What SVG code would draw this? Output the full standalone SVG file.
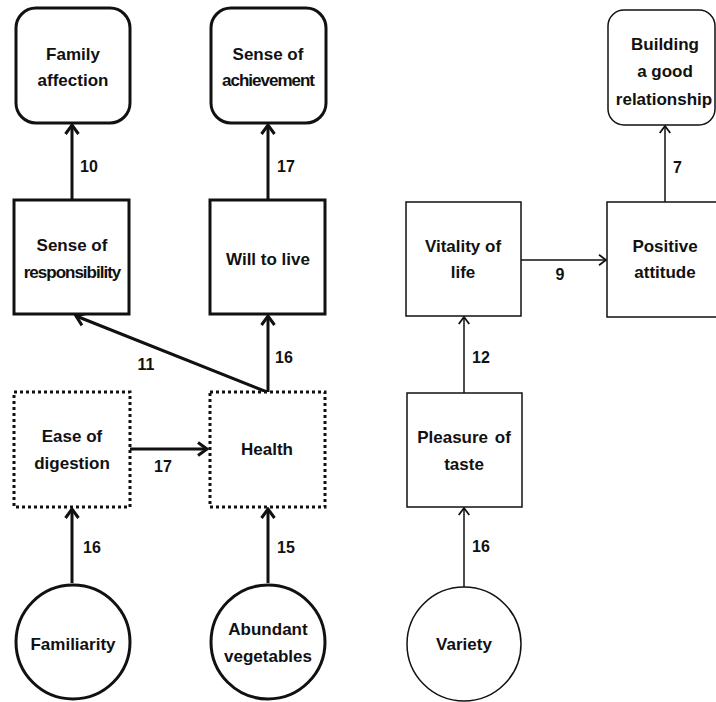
<svg xmlns="http://www.w3.org/2000/svg" width="716" height="702" viewBox="0 0 716 702">
<style>
text{font-family:"Liberation Sans",Arial,sans-serif;font-weight:bold;font-size:17px;fill:#111;text-anchor:middle}
text.n{font-size:16px}
.thick{fill:#fff;stroke:#111;stroke-width:3}
.thin{fill:#fff;stroke:#111;stroke-width:1.5}
.dot{fill:#fff;stroke:#111;stroke-width:3;stroke-dasharray:3 3}
.ct{stroke:#111;stroke-width:3;fill:none;marker-end:url(#ah)}
.cn{stroke:#111;stroke-width:1.5;fill:none;marker-end:url(#ahs)}
.lbl{text-anchor:start}
</style>
<defs>
<marker id="ah" markerUnits="userSpaceOnUse" markerWidth="20" markerHeight="20" refX="0" refY="0" viewBox="-12 -10 14 20" orient="auto" overflow="visible">
<path d="M-9,-6.5 L0,0 L-9,6.5" fill="none" stroke="#111" stroke-width="3"/>
</marker>
<marker id="ahs" markerUnits="userSpaceOnUse" markerWidth="14" markerHeight="14" refX="0" refY="0" viewBox="-8 -6 10 12" orient="auto" overflow="visible">
<path d="M-6,-4.5 L0,0 L-6,4.5" fill="none" stroke="#111" stroke-width="1.5"/>
</marker>
</defs>
<g id="connectors">
<line class="ct" x1="72" y1="200" x2="72" y2="125"/>
<line class="ct" x1="268" y1="200" x2="268" y2="125"/>
<line class="ct" x1="267" y1="392" x2="76" y2="316"/>
<line class="ct" x1="268" y1="392" x2="268" y2="316"/>
<line class="ct" x1="130" y1="449" x2="207" y2="449"/>
<line class="ct" x1="72" y1="583" x2="72" y2="509"/>
<line class="ct" x1="268" y1="583" x2="268" y2="509"/>
<line class="cn" x1="665" y1="202" x2="665" y2="126"/>
<line class="cn" x1="521" y1="260" x2="606" y2="260"/>
<line class="cn" x1="464" y1="393" x2="464" y2="317"/>
<line class="cn" x1="464" y1="587" x2="464" y2="508"/>
<text class="n lbl" x="80" y="172">10</text>
<text class="n lbl" x="277" y="172">17</text>
<text class="n" x="146" y="370">11</text>
<text class="n lbl" x="275" y="363">16</text>
<text class="n" x="163" y="472">17</text>
<text class="n lbl" x="83" y="553">16</text>
<text class="n lbl" x="277" y="553">15</text>
<text class="n lbl" x="673" y="173">7</text>
<text class="n" x="560" y="280">9</text>
<text class="n lbl" x="472" y="363">12</text>
<text class="n lbl" x="472" y="552">16</text>
</g>
<g id="family-affection">
<rect class="thick" x="16" y="8" width="114" height="115" rx="20"/>
<text x="73" y="60">Family</text>
<text x="73" y="86">affection</text>
</g>
<g id="sense-of-achievement">
<rect class="thick" x="211" y="8" width="115" height="115" rx="20"/>
<text x="268" y="60">Sense of</text>
<text x="268" y="86" letter-spacing="-1">achievement</text>
</g>
<g id="sense-of-responsibility">
<rect class="thick" x="14" y="200" width="115" height="114"/>
<text x="72" y="251">Sense of</text>
<text x="72" y="278" letter-spacing="-1">responsibility</text>
</g>
<g id="will-to-live">
<rect class="thick" x="210" y="200" width="115" height="114"/>
<text x="268" y="265">Will to live</text>
</g>
<g id="ease-of-digestion">
<rect class="dot" x="14" y="392" width="116" height="115"/>
<text x="72" y="442">Ease of</text>
<text x="72" y="469">digestion</text>
</g>
<g id="health">
<rect class="dot" x="210" y="392" width="115" height="115"/>
<text x="267" y="455">Health</text>
</g>
<g id="familiarity">
<circle class="thick" cx="73" cy="642" r="57"/>
<text x="73" y="650">Familiarity</text>
</g>
<g id="abundant-vegetables">
<circle class="thick" cx="268" cy="642" r="57"/>
<text x="268" y="635">Abundant</text>
<text x="268" y="662">vegetables</text>
</g>
<g id="building-a-good-relationship">
<rect class="thin" x="608" y="10" width="107" height="115" rx="16"/>
<text x="665" y="50">Building</text>
<text x="665" y="77">a good</text>
<text x="664" y="105">relationship</text>
</g>
<g id="vitality-of-life">
<rect class="thin" x="406" y="202" width="115" height="114"/>
<text x="463" y="252">Vitality of</text>
<text x="463" y="278">life</text>
</g>
<g id="positive-attitude">
<rect class="thin" x="607" y="202" width="120" height="115"/>
<text x="665" y="252">Positive</text>
<text x="665" y="278">attitude</text>
</g>
<g id="pleasure-of-taste">
<rect class="thin" x="407" y="393" width="115" height="114"/>
<text x="464" y="443" word-spacing="2">Pleasure of</text>
<text x="464" y="470">taste</text>
</g>
<g id="variety">
<circle class="thin" cx="464" cy="644" r="57"/>
<text x="464" y="650">Variety</text>
</g>
</svg>
